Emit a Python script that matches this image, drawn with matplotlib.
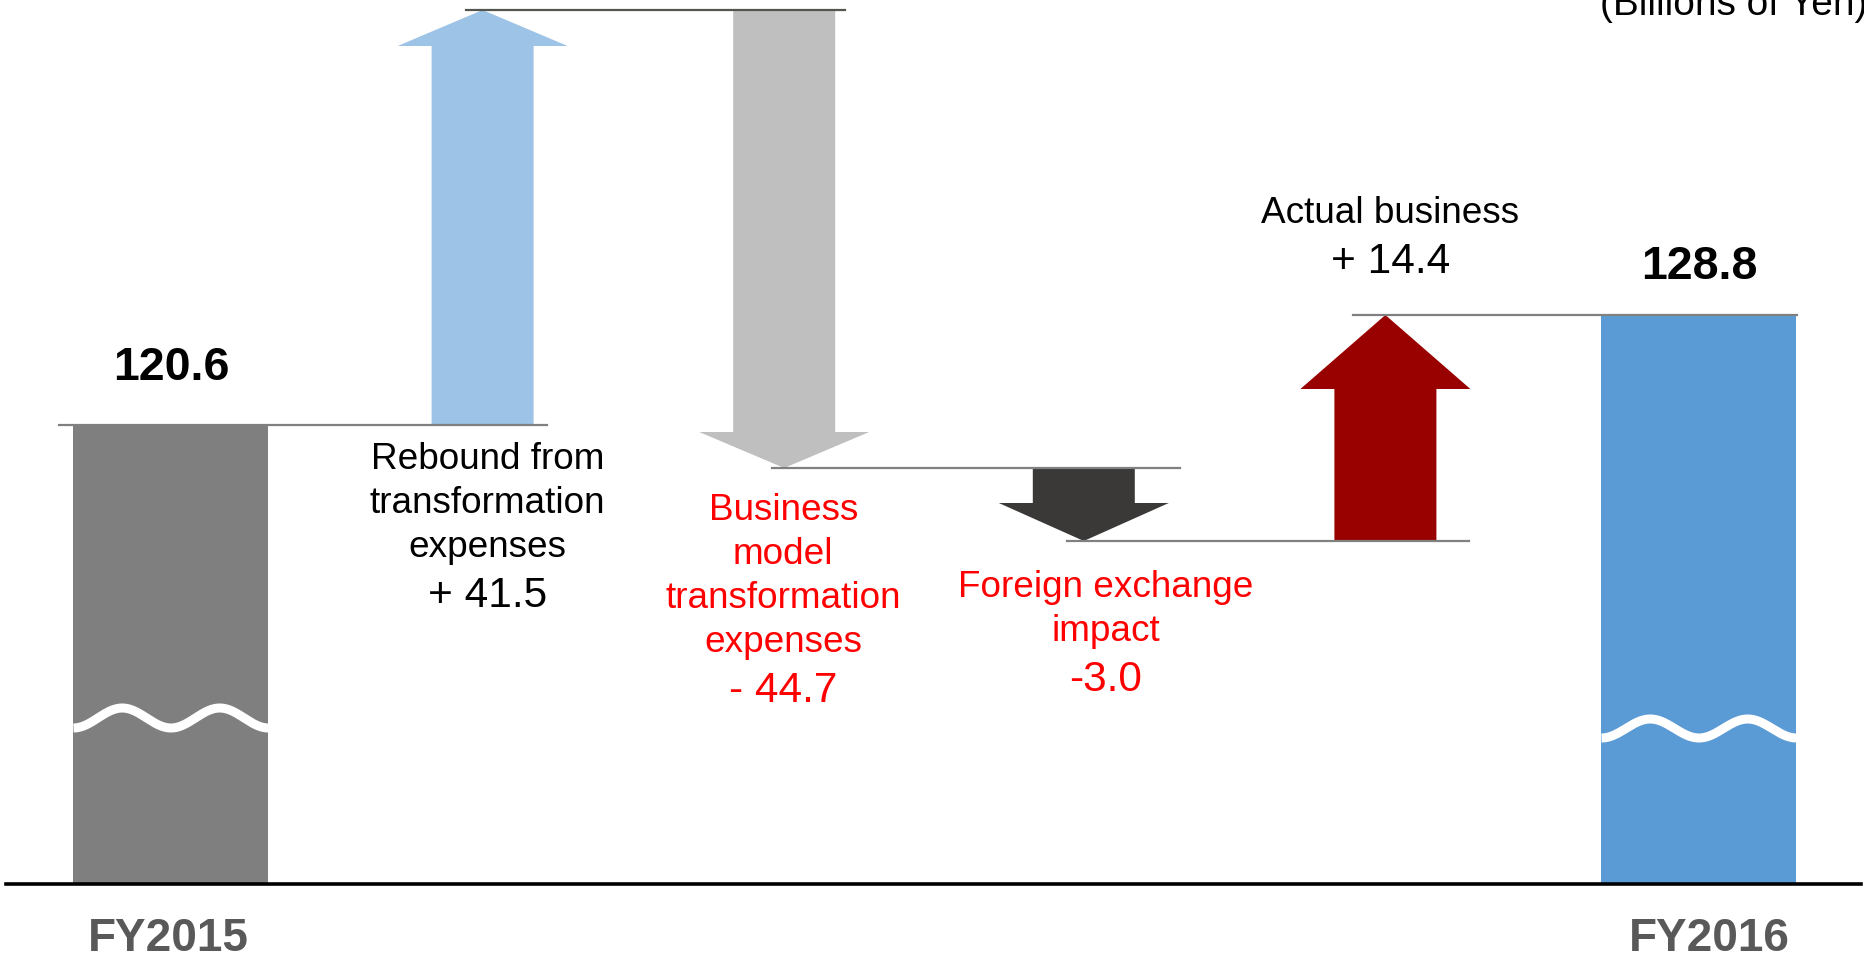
import numpy as np
import matplotlib
matplotlib.use('Agg')
import matplotlib.pyplot as plt
from matplotlib.patches import Polygon, Rectangle

# Bridge steps, left to right
steps = ['FY2015',
         'Rebound from\ntransformation\nexpenses',
         'Business\nmodel\ntransformation\nexpenses',
         'Foreign exchange\nimpact',
         'Actual business',
         'FY2016']
value_labels = ['120.6', '+ 41.5', '- 44.7', '-3.0', '+ 14.4', '128.8']
# level reached after each step, as drawn on the slide (it is not to scale),
# in pixels above the baseline
levels = [459, 874, 416, 343, 569, 569]
unit_note = '(Billions of Yen)'

# styles
fills = ['#7f7f7f', '#9dc3e6', '#bfbfbf', '#3b3838', '#990000', '#5b9bd5']
text_colors = ['black', 'black', '#ff0000', '#ff0000', 'black', 'black']
head_len = [None, 36, 36, 38, 74, None]
x_nudge = [0, 6, 2, -4, -8, 0]                  # px, slide spacing is uneven
label_dx = [0, 5, -1, 22, 5, 0]                 # px, label offset from its arrow
value_base = [504, 277, 182, 193, 611, 605]     # baseline of the number label
conn_left = [-0.365, -0.055, -0.04, -0.055, -0.105]
conn_right = [0.21, 0.2, 0.315, 0.275, 0.32]
conn_colors = ['#808080', '#555550', '#808080', '#808080', '#808080']

FONT = 'Liberation Sans'
PX = 305.6  # pixels per category step

fig = plt.figure(figsize=(18.65, 9.61), dpi=100)
ax = fig.add_axes([0, 0, 1, 1])
ax.set_xlim(-171 / PX, (1865 - 171) / PX)
ax.set_ylim(-77, 884)
ax.axis('off')

x = np.arange(len(steps)) + np.array(x_nudge) / PX
bar_w = 195 / PX
shaft_w = 102 / PX
head_w = 170 / PX


def arrow(xc, y0, y1, hl, color):
    s = 1 if y1 > y0 else -1
    yb = y1 - s * hl
    pts = [(xc - shaft_w / 2, y0), (xc + shaft_w / 2, y0), (xc + shaft_w / 2, yb),
           (xc + head_w / 2, yb), (xc, y1), (xc - head_w / 2, yb),
           (xc - shaft_w / 2, yb)]
    ax.add_patch(Polygon(pts, closed=True, facecolor=color, edgecolor='none', zorder=2))


def wave(xc, yc, amp):
    # axis-break squiggle drawn across a total bar
    t = np.linspace(0, 1, 200)
    xs = xc - bar_w / 2 + t * bar_w
    ys = yc - amp * np.cos(2 * np.pi * 2 * t)
    ax.plot(xs, ys, color='white', lw=6.5, solid_capstyle='butt', zorder=3)


# total bars
for i, fy_dx in ((0, -0.01), (len(steps) - 1, 0.035)):
    ax.add_patch(Rectangle((x[i] - bar_w / 2, 0), bar_w, levels[i],
                           facecolor=fills[i], edgecolor='none', zorder=2))
    ax.text(x[i], value_base[i], value_labels[i], ha='center', va='baseline',
            fontsize=33.5, fontweight='bold', family=FONT, color='black')
    ax.text(x[i] + fy_dx, -67, steps[i], ha='center', va='baseline',
            fontsize=33, fontweight='bold', family=FONT, color='#595959')
wave(x[0], 166, 10)
wave(x[-1], 155.5, 9.5)

# change arrows and their labels
for i in range(1, len(steps) - 1):
    arrow(x[i], levels[i - 1], levels[i], head_len[i], fills[i])
    tx = x[i] + label_dx[i] / PX
    ax.text(tx, value_base[i], value_labels[i], ha='center', va='baseline',
            fontsize=30.5, family=FONT, color=text_colors[i])
    lines = steps[i].split('\n')
    for k, line in enumerate(reversed(lines)):
        ax.text(tx, value_base[i] + 50 + 44 * k, line, ha='center', va='baseline',
                fontsize=26.6, family=FONT, color=text_colors[i])

# connector lines between consecutive levels
for i in range(len(steps) - 1):
    ax.plot([x[i] + conn_left[i], x[i + 1] + conn_right[i]], [levels[i], levels[i]],
            color=conn_colors[i], lw=1.6, zorder=4)

ax.axhline(0, xmin=6 / 1865, xmax=1861 / 1865, color='black', lw=2.6, zorder=5)

ax.text((1600 - 171) / PX, 869, unit_note, ha='left', va='baseline',
        fontsize=28, family=FONT, color='black')

fig.savefig('out.png', dpi=100)
